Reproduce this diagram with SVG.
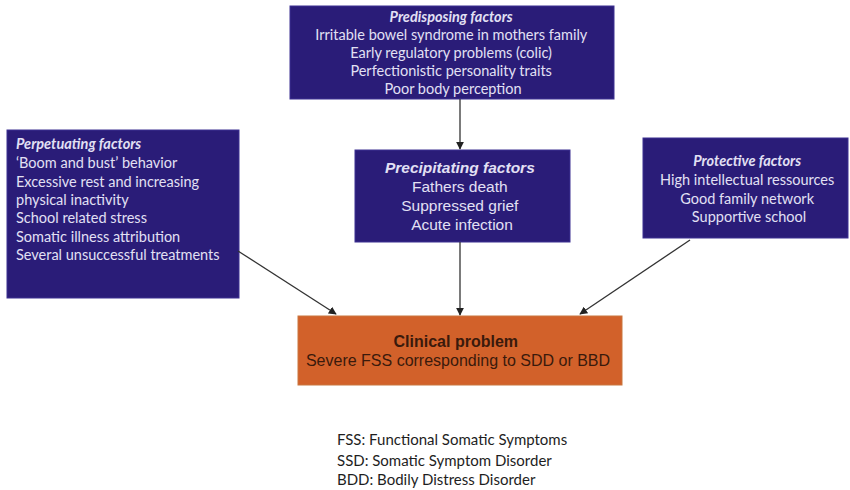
<svg xmlns="http://www.w3.org/2000/svg" width="850" height="490" viewBox="0 0 850 490">
  <defs>
    <marker id="arrow" viewBox="0 0 10 10" refX="9" refY="5" markerWidth="8" markerHeight="8" markerUnits="userSpaceOnUse" orient="auto">
      <path d="M0,0 L10,5 L0,10 z" fill="#222"/>
    </marker>
    <style>
      .factor { fill: #2a1c78; stroke: #3d3192; stroke-width: 1; }
      .clinical { fill: #d2612a; stroke: #c9773f; stroke-width: 1; }
      .ftxt { font-family: Lato, "Open Sans", "Liberation Sans", sans-serif; font-size: 14.5px; fill: #e2e0f4; }
      .ftitle { font-weight: bold; font-style: italic; }
      .gtxt { font-family: "Liberation Sans", Arial, sans-serif; fill: #e2e0f4; font-size: 15.5px; }
      .ctxt { font-family: "Liberation Sans", Arial, sans-serif; fill: #3a1a0c; font-size: 16px; }
      .legend { font-family: Lato, "Liberation Sans", sans-serif; font-size: 15px; fill: #1e1e1e; }
      .conn { stroke: #333; stroke-width: 1.3; fill: none; marker-end: url(#arrow); }
    </style>
  </defs>
  <rect width="850" height="490" fill="#ffffff"/>

  <g id="predisposing">
    <rect class="factor" x="290" y="6" width="324" height="93"/>
    <text class="ftxt" text-anchor="middle">
      <tspan class="ftitle" x="453" y="22">Predisposing factors</tspan>
      <tspan x="453" y="40">Irritable bowel syndrome in mothers family</tspan>
      <tspan x="453" y="58">Early regulatory problems (colic)</tspan>
      <tspan x="453" y="76">Perfectionistic personality traits</tspan>
      <tspan x="453" y="94">Poor body perception</tspan>
    </text>
  </g>

  <g id="perpetuating">
    <rect class="factor" x="7" y="130" width="232" height="168"/>
    <text class="ftxt" font-size="15px">
      <tspan class="ftitle" x="16" y="149">Perpetuating factors</tspan>
      <tspan x="16" y="168">‘Boom and bust’ behavior</tspan>
      <tspan x="16" y="187">Excessive rest and increasing</tspan>
      <tspan x="16" y="205">physical inactivity</tspan>
      <tspan x="16" y="223">School related stress</tspan>
      <tspan x="16" y="242">Somatic illness attribution</tspan>
      <tspan x="16" y="260">Several unsuccessful treatments</tspan>
    </text>
  </g>

  <g id="precipitating">
    <rect class="factor" x="355" y="150" width="215" height="92"/>
    <text class="gtxt" text-anchor="middle">
      <tspan x="462" y="173" font-weight="bold" font-style="italic">Precipitating factors</tspan>
      <tspan x="462" y="192">Fathers death</tspan>
      <tspan x="462" y="211">Suppressed grief</tspan>
      <tspan x="462" y="230">Acute infection</tspan>
    </text>
  </g>

  <g id="protective">
    <rect class="factor" x="643" y="138" width="205" height="100"/>
    <text class="ftxt" text-anchor="middle">
      <tspan class="ftitle" x="749" y="166">Protective factors</tspan>
      <tspan x="749" y="185">High intellectual ressources</tspan>
      <tspan x="749" y="204">Good family network</tspan>
      <tspan x="749" y="222">Supportive school</tspan>
    </text>
  </g>

  <g id="clinical-problem">
    <rect class="clinical" x="298" y="316" width="324" height="69"/>
    <text class="ctxt" text-anchor="middle">
      <tspan x="458" y="347" font-weight="bold">Clinical problem</tspan>
      <tspan x="458" y="366">Severe FSS corresponding to SDD or BBD</tspan>
    </text>
  </g>

  <g id="connectors">
    <line class="conn" x1="460" y1="99" x2="460" y2="149"/>
    <line class="conn" x1="460" y1="242" x2="460" y2="315"/>
    <line class="conn" x1="238" y1="251" x2="336" y2="314"/>
    <line class="conn" x1="690" y1="240" x2="580" y2="314"/>
  </g>

  <g id="legend">
    <text class="legend">
      <tspan x="337" y="445">FSS: Functional Somatic Symptoms</tspan>
      <tspan x="337" y="466">SSD: Somatic Symptom  Disorder</tspan>
      <tspan x="337" y="485">BDD: Bodily Distress Disorder</tspan>
    </text>
  </g>
</svg>
